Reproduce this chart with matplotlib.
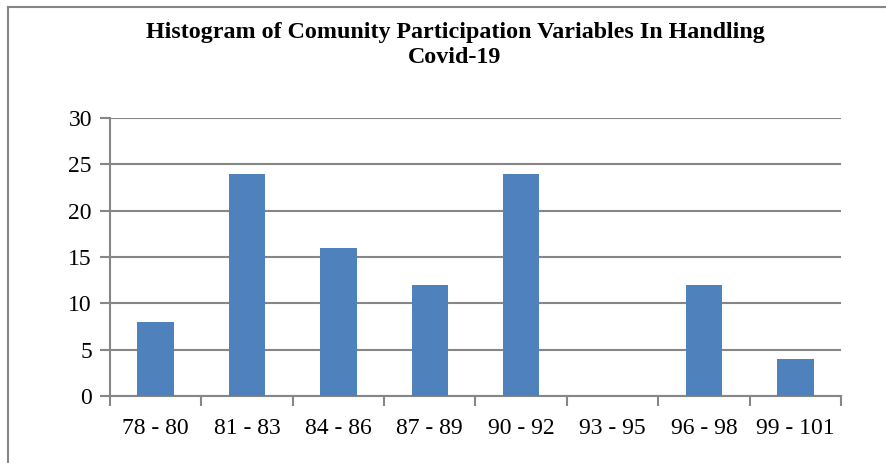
import matplotlib.pyplot as plt
from matplotlib.lines import Line2D

# 資料
categories = ["78 - 80", "81 - 83", "84 - 86", "87 - 89", "90 - 92", "93 - 95", "96 - 98", "99 - 101"]
counts = [8, 24, 16, 12, 24, 0, 12, 4]
y_ticks = [0, 5, 10, 15, 20, 25, 30]

plt.rcParams['font.family'] = ['Liberation Serif', 'DejaVu Serif']

W, H = 887, 463
fig = plt.figure(figsize=(W / 100, H / 100), dpi=100)
ax = fig.add_axes([110 / W, 1 - 396 / H, (841 - 110) / W, (396 - 118) / H])

grid_color = "#868686"
x = list(range(len(categories)))
ax.bar(x, counts, width=0.4, color="#4F81BD", zorder=3)

ax.set_xlim(-0.5, len(categories) - 0.5)
ax.set_ylim(0, 30)
ax.set_yticks(y_ticks)
ax.set_yticklabels([str(v) for v in y_ticks])
ax.yaxis.grid(True, color=grid_color, linewidth=1.5, zorder=0)

# x 軸刻度放在類別邊界
ax.set_xticks([i - 0.5 for i in range(len(categories) + 1)])
ax.set_xticklabels([])
ax.set_xticks(x, minor=True)
ax.set_xticklabels(categories, minor=True)
ax.tick_params(axis="x", which="minor", length=0, pad=16, labelsize=17)
ax.tick_params(axis="x", which="major", length=7, width=1.5, color=grid_color, direction="out")
ax.tick_params(axis="y", length=7, width=1.5, color=grid_color, pad=6, labelsize=17)

for side in ["top", "right"]:
    ax.spines[side].set_visible(False)
for side in ["left", "bottom"]:
    ax.spines[side].set_color(grid_color)
    ax.spines[side].set_linewidth(1.5)

fig.text(455 / W, 1 - 45 / H, "Histogram of Comunity Participation Variables In Handling\nCovid-19",
         ha="center", va="center", fontsize=17.3, fontweight="bold", linespacing=1.25)

# 外框 (只有左和上)
fig.add_artist(Line2D([8 / W, 8 / W], [0, 1 - 7 / H], color=grid_color, linewidth=1.5))
fig.add_artist(Line2D([8 / W, 1], [1 - 7 / H, 1 - 7 / H], color=grid_color, linewidth=1.5))

fig.savefig("out.png", dpi=100)
